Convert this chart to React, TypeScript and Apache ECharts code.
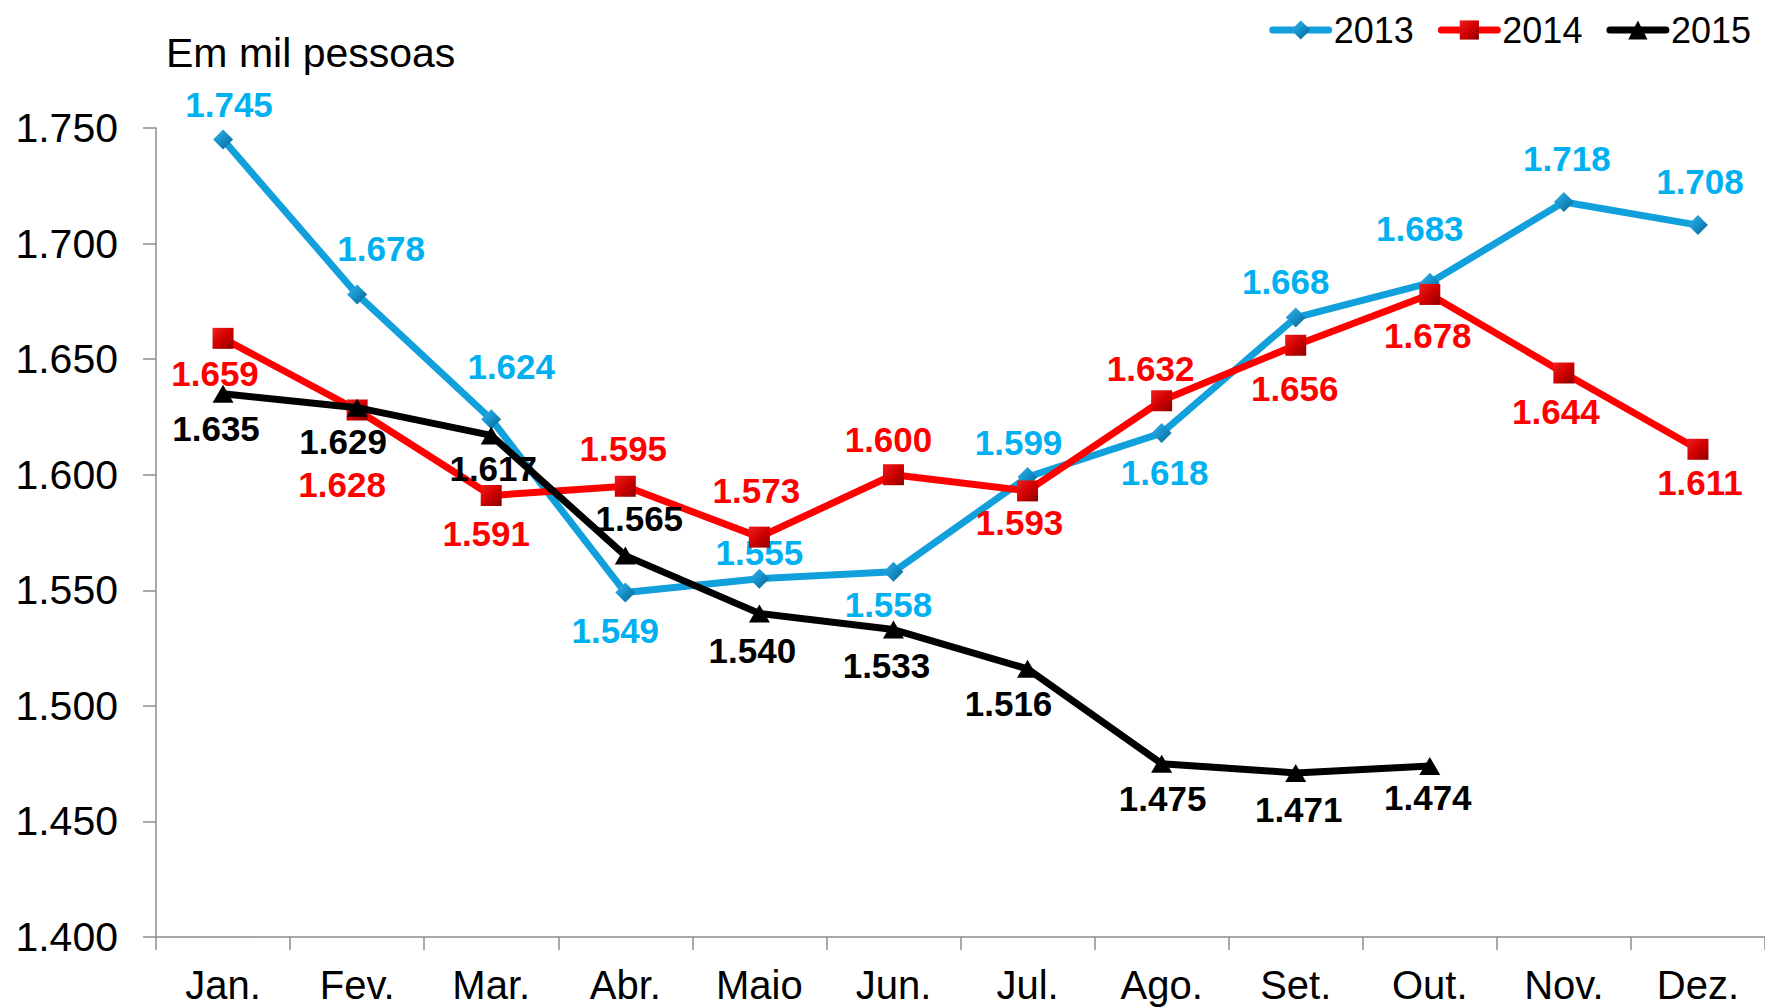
import React, { useEffect, useRef } from "react";
import * as echarts from "echarts";

const months = ["Jan.", "Fev.", "Mar.", "Abr.", "Maio", "Jun.", "Jul.", "Ago.", "Set.", "Out.", "Nov.", "Dez."];
const yTicks = [1400, 1450, 1500, 1550, 1600, 1650, 1700, 1750];
const s2013 = [1745, 1678, 1624, 1549, 1555, 1558, 1599, 1618, 1668, 1683, 1718, 1708];
const s2014 = [1659, 1628, 1591, 1595, 1573, 1600, 1593, 1632, 1656, 1678, 1644, 1611];
const s2015 = [1635, 1629, 1617, 1565, 1540, 1533, 1516, 1475, 1471, 1474];

// label offsets (px) relative to each point — layout, not data
const off2013 = [[6, -35], [24, -46], [20, -53], [-10, 38], [0, -26], [-5, 33], [-9, -35], [3, 39], [-10, -36], [-10, -54], [3, -43], [2, -44]];
const off2014 = [[-8, 35], [-15, 75], [-5, 38], [-2, -38], [-3, -47], [-5, -35], [-8, 32], [-11, -32], [-1, 43], [-2, 41], [-8, 38], [2, 33]];
const off2015 = [[-7, 35], [-14, 34], [2, 33], [14, -37], [-7, 37], [-7, 36], [-19, 35], [1, 35], [3, 37], [-2, 32]];

const fmt = (v: number) => {
  const s = String(Math.round(v));
  return s.length > 3 ? s.slice(0, s.length - 3) + "." + s.slice(s.length - 3) : s;
};

function makeData(vals: number[], offs: number[][]) {
  return vals.map((v, i) => ({
    value: v,
    label: { offset: offs[i] },
  }));
}

export default function App() {
  const ref = useRef<HTMLDivElement>(null);
  useEffect(() => {
    if (!ref.current) return;
    const chart = echarts.init(ref.current, null, { renderer: "svg" });
    const font = "'Liberation Sans', Arial, Helvetica, sans-serif";
    const labelBase = {
      show: true,
      position: "inside",
      fontFamily: font,
      fontSize: 35,
      fontWeight: "bold",
      align: "center",
      verticalAlign: "middle",
      formatter: (p: any) => fmt(p.value),
    };
    chart.setOption({
      animation: false,
      backgroundColor: "#ffffff",
      textStyle: { fontFamily: font },
      title: {
        text: "Em mil pessoas",
        left: 166,
        top: 32,
        padding: 0,
        textStyle: { fontFamily: font, fontSize: 41, fontWeight: "normal", color: "#000", lineHeight: 41 },
      },
      legend: {
        top: 8,
        right: 14,
        itemWidth: 56,
        itemHeight: 24,
        itemGap: 24,
        padding: 0,
        lineStyle: { width: 7, cap: "round" },
        textStyle: { fontFamily: font, fontSize: 36, color: "#000", lineHeight: 44, padding: [0, 0, 0, 0] },
        data: ["2013", "2014", "2015"],
      },
      grid: { left: 156, right: 0, top: 128, bottom: 70, containLabel: false },
      xAxis: {
        type: "category",
        data: months,
        boundaryGap: true,
        axisLine: { show: true, lineStyle: { color: "#8c8c8c", width: 1.5 } },
        axisTick: { show: true, inside: false, length: 13, alignWithLabel: false, lineStyle: { color: "#8c8c8c", width: 1.5 } },
        axisLabel: { fontFamily: font, fontSize: 40, color: "#000", margin: 28, lineHeight: 40 },
        splitLine: { show: false },
      },
      yAxis: {
        type: "value",
        min: yTicks[0],
        max: yTicks[yTicks.length - 1],
        interval: 50,
        axisLine: { show: true, lineStyle: { color: "#8c8c8c", width: 1.5 } },
        axisTick: { show: true, inside: false, length: 13, lineStyle: { color: "#8c8c8c", width: 1.5 } },
        axisLabel: { fontFamily: font, fontSize: 41, color: "#000", margin: 38, formatter: (v: number) => fmt(v) },
        splitLine: { show: false },
      },
      series: [
        {
          name: "2013",
          type: "line",
          data: makeData(s2013, off2013),
          symbol: "diamond",
          symbolSize: 20,
          lineStyle: { color: "#12A0DC", width: 7 },
          itemStyle: {
            color: new echarts.graphic.LinearGradient(0, 0, 1, 1, [
              { offset: 0, color: "#3BB4E8" },
              { offset: 0.5, color: "#1590C9" },
              { offset: 1, color: "#0E5F88" },
            ]),
            borderWidth: 0,
          },
          label: { ...labelBase, color: "#00B0F0" },
          z: 3,
        },
        {
          name: "2014",
          type: "line",
          data: makeData(s2014, off2014),
          symbol: "rect",
          symbolSize: 21,
          lineStyle: { color: "#FF0000", width: 7 },
          itemStyle: {
            color: new echarts.graphic.LinearGradient(0, 0, 1, 1, [
              { offset: 0, color: "#F02020" },
              { offset: 0.5, color: "#D00000" },
              { offset: 1, color: "#8A0000" },
            ]),
            borderWidth: 0,
          },
          label: { ...labelBase, color: "#FF0000" },
          z: 4,
        },
        {
          name: "2015",
          type: "line",
          data: makeData(s2015, off2015),
          symbol: "triangle",
          symbolSize: [21, 18],
          lineStyle: { color: "#000000", width: 7 },
          itemStyle: { color: "#000000", borderWidth: 0 },
          label: { ...labelBase, color: "#000000" },
          z: 5,
        },
      ],
    });
    return () => chart.dispose();
  }, []);
  return (
    <div
      ref={ref}
      style={{ position: "fixed", left: 0, top: 0, width: 1765, height: 1007, background: "#fff" }}
    />
  );
}
